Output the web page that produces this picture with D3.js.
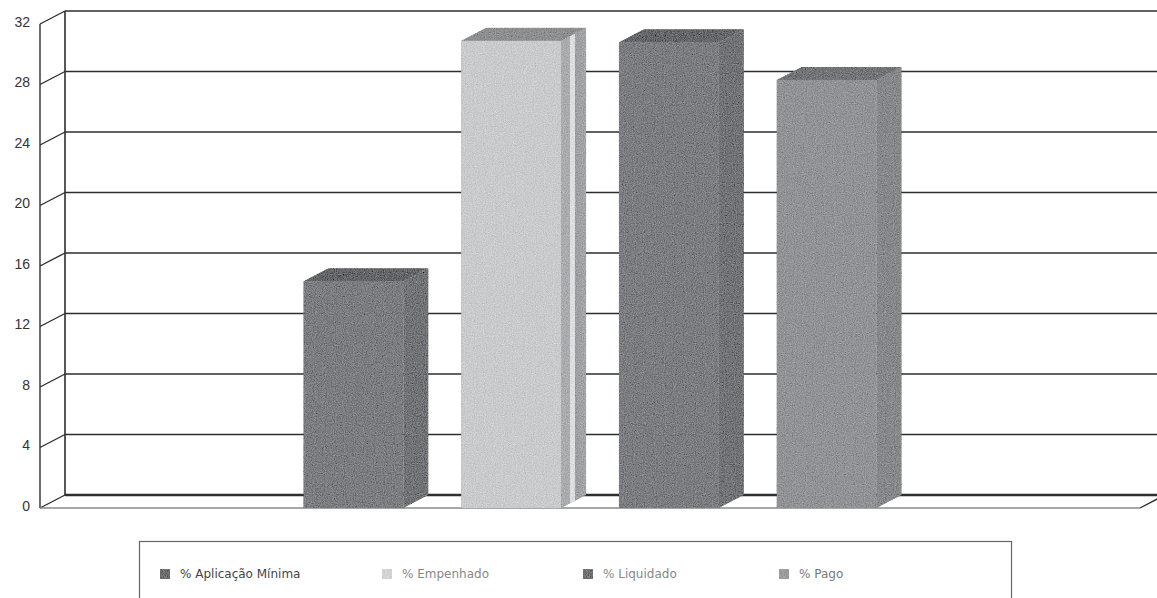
<!DOCTYPE html>
<html>
<head>
<meta charset="utf-8">
<script src="https://cdn.jsdelivr.net/npm/d3@7"></script>
<style>
  body { margin: 0; background: #fff; }
  svg { display: block; }
</style>
</head>
<body>
<div id="chart"></div>
<script>
// data
var series = ["% Aplicação Mínima", "% Empenhado", "% Liquidado", "% Pago"]
var values = [15, 30.9, 30.8, 28.3]
var yTicks = [0, 4, 8, 12, 16, 20, 24, 28, 32]

var fillFront = ["#7a7c7f", "#c9cacc", "#7a7c7f", "#909295"]
var fillSide  = ["#707275", "#b4b6b8", "#707275", "#85878a"]
var fillTop   = ["#636568", "#8c8e90", "#646669", "#727477"]

var width = 1157
var height = 598

// front plane + depth offset of the 3d box
var dx = 25, dy = -13
var x0 = 40, x1 = 1140

var svg = d3.select("#chart")
    .append("svg")
    .attr("width", width)
    .attr("height", height)

var defs = svg.append("defs")

// scanned look grain
var grain = defs.append("filter").attr("id", "grain")
    .attr("x", "-5%").attr("y", "-5%").attr("width", "110%").attr("height", "110%")
grain.append("feTurbulence").attr("type", "fractalNoise").attr("baseFrequency", 0.9)
    .attr("numOctaves", 2).attr("seed", 3).attr("result", "n")
grain.append("feColorMatrix").attr("in", "n").attr("type", "matrix")
    .attr("values", "0.33 0.33 0.33 0 0  0.33 0.33 0.33 0 0  0.33 0.33 0.33 0 0  0 0 0 0 1")
    .attr("result", "gn")
grain.append("feComposite").attr("in", "SourceGraphic").attr("in2", "gn")
    .attr("operator", "arithmetic").attr("k1", 0).attr("k2", 1).attr("k3", 0.55).attr("k4", -0.27)
    .attr("result", "mix")
grain.append("feComposite").attr("in", "mix").attr("in2", "SourceGraphic").attr("operator", "in")

// light bar has a striped side
var stripe = defs.append("linearGradient").attr("id", "stripe")
    .attr("x1", "0%").attr("x2", "100%").attr("y1", "0%").attr("y2", "0%")
stripe.append("stop").attr("offset", "0%").attr("stop-color", "#a9abae")
stripe.append("stop").attr("offset", "35%").attr("stop-color", "#a9abae")
stripe.append("stop").attr("offset", "36%").attr("stop-color", "#dcdddf")
stripe.append("stop").attr("offset", "55%").attr("stop-color", "#dcdddf")
stripe.append("stop").attr("offset", "56%").attr("stop-color", "#9c9ea1")
stripe.append("stop").attr("offset", "100%").attr("stop-color", "#a3a5a8")
fillSide[1] = "url(#stripe)"

var y = d3.scaleLinear().domain([0, 32]).range([508, 24])

var x = d3.scaleBand()
    .domain(series)
    .range([x0, x1])
    .paddingInner(0.366)
    .paddingOuter(1.67)

var lineCol = "#2e2e2e"

// back wall gridlines
svg.append("g").selectAll("line")
    .data(yTicks)
    .enter()
    .append("line")
    .attr("x1", x0 + dx).attr("x2", width + 10)
    .attr("y1", function (d) { return y(d) + dy })
    .attr("y2", function (d) { return y(d) + dy })
    .attr("stroke", lineCol)
    .attr("stroke-width", function (d) { return d == 0 ? 2.6 : 1.6 })

// left wall: diagonals and verticals
svg.append("g").selectAll("line")
    .data(yTicks)
    .enter()
    .append("line")
    .attr("x1", x0).attr("x2", x0 + dx)
    .attr("y1", function (d) { return y(d) })
    .attr("y2", function (d) { return y(d) + dy })
    .attr("stroke", lineCol)
    .attr("stroke-width", 1.4)

svg.append("line").attr("x1", x0).attr("x2", x0)
    .attr("y1", y(32)).attr("y2", y(0))
    .attr("stroke", lineCol).attr("stroke-width", 1.4)
svg.append("line").attr("x1", x0 + dx).attr("x2", x0 + dx)
    .attr("y1", y(32) + dy).attr("y2", y(0) + dy)
    .attr("stroke", lineCol).attr("stroke-width", 1.6)

// floor front edge
svg.append("line").attr("x1", x0).attr("x2", x1)
    .attr("y1", y(0)).attr("y2", y(0))
    .attr("stroke", "#8a8a8a").attr("stroke-width", 1.4)
svg.append("line").attr("x1", x1).attr("x2", x1 + dx)
    .attr("y1", y(0)).attr("y2", y(0) + dy)
    .attr("stroke", lineCol).attr("stroke-width", 1.4)

// y labels
svg.append("g").selectAll("text")
    .data(yTicks)
    .enter()
    .append("text")
    .attr("x", 30)
    .attr("y", function (d) { return y(d) - 1 })
    .attr("text-anchor", "end")
    .attr("dominant-baseline", "middle")
    .style("font-family", "Liberation Sans, Arial, sans-serif")
    .style("font-size", "14px")
    .style("fill", "#333")
    .text(function (d) { return d })

// bars
var bars = svg.append("g").attr("filter", "url(#grain)")
    .selectAll("g")
    .data(series)
    .enter()
    .append("g")

bars.append("rect")
    .attr("x", function (d) { return x(d) })
    .attr("y", function (d, i) { return y(values[i]) })
    .attr("width", x.bandwidth())
    .attr("height", function (d, i) { return y(0) - y(values[i]) })
    .attr("fill", function (d, i) { return fillFront[i] })

bars.append("path")
    .attr("d", function (d, i) {
        var a = x(d) + x.bandwidth(), t = y(values[i]), b = y(0)
        return "M" + a + "," + t + "L" + (a + dx) + "," + (t + dy) +
            "L" + (a + dx) + "," + (b + dy) + "L" + a + "," + b + "Z"
    })
    .attr("fill", function (d, i) { return fillSide[i] })

bars.append("path")
    .attr("d", function (d, i) {
        var l = x(d), r = x(d) + x.bandwidth(), t = y(values[i])
        return "M" + l + "," + t + "L" + (l + dx) + "," + (t + dy) +
            "L" + (r + dx) + "," + (t + dy) + "L" + r + "," + t + "Z"
    })
    .attr("fill", function (d, i) { return fillTop[i] })

// legend
var legend = svg.append("g")
legend.append("rect")
    .attr("x", 139.5).attr("y", 541.5)
    .attr("width", 872).attr("height", 70)
    .attr("fill", "none")
    .attr("stroke", "#666")
    .attr("stroke-width", 1.2)

var legendX = [160, 382, 583, 779]
var legendText = ["#444", "#888", "#888", "#777"]
var legendSwatch = ["#6b6d70", "#d2d3d5", "#6f7174", "#9a9ca0"]

var item = legend.selectAll("g.item")
    .data(series)
    .enter()
    .append("g")
    .attr("class", "item")
    .attr("transform", function (d, i) { return "translate(" + legendX[i] + ",574)" })

item.append("rect")
    .attr("x", 0).attr("y", -5)
    .attr("width", 10).attr("height", 10)
    .attr("fill", function (d, i) { return legendSwatch[i] })
    .attr("filter", "url(#grain)")

item.append("text")
    .attr("x", 20)
    .attr("y", 0)
    .attr("dominant-baseline", "middle")
    .style("font-family", "DejaVu Sans, Verdana, sans-serif")
    .style("font-size", "12px")
    .style("fill", function (d, i) { return legendText[i] })
    .text(function (d) { return d })
</script>
</body>
</html>
